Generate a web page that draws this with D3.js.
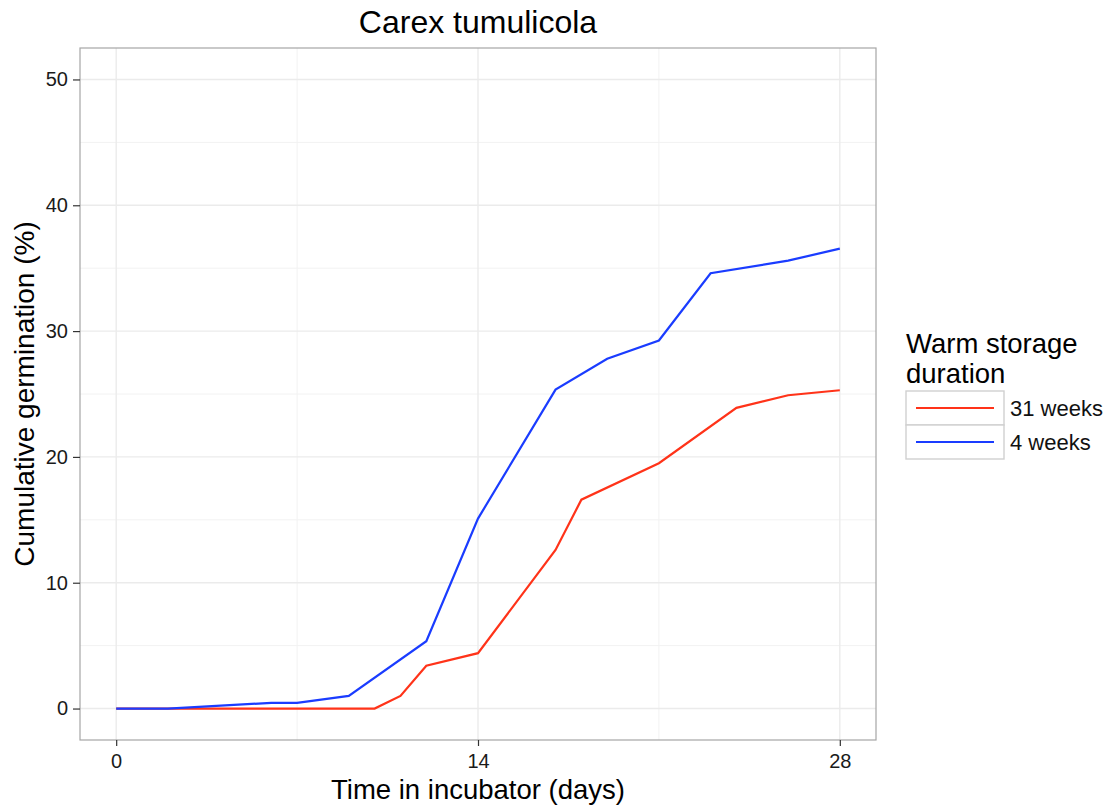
<!DOCTYPE html>
<html><head><meta charset="utf-8">
<script src="https://cdn.jsdelivr.net/npm/d3@7"></script>
<style>body{margin:0;background:#fff;font-family:"Liberation Sans",Arial,sans-serif;}</style>
</head><body>
<svg id="c" width="1106" height="807"></svg>
<script>
const title = "Carex tumulicola";
const xTicks = [0, 14, 28];
const yTicks = [0, 10, 20, 30, 40, 50];
const seriesNames = ["31 weeks", "4 weeks"];
const seriesColors = ["#ff3319", "#1a3cff"];
const daysRed = [0, 2, 6, 7, 9, 10, 11, 12, 14, 17, 18, 21, 24, 26, 28];
const valsRed = [0, 0, 0, 0, 0, 0, 1.0, 3.4, 4.4, 12.6, 16.6, 19.5, 23.9, 24.9, 25.3];
const daysBlue = [0, 2, 6, 7, 9, 12, 14, 17, 19, 21, 23, 26, 28];
const valsBlue = [0, 0, 0.45, 0.45, 1.0, 5.35, 15.1, 25.35, 27.8, 29.25, 34.6, 35.6, 36.55];

const svg = d3.select("#c");
const L = 80, R = 876, T = 48, B = 740;
const x = d3.scaleLinear().domain([-1.4, 29.4]).range([L, R]);
const y = d3.scaleLinear().domain([-2.5, 52.5]).range([B, T]);

// grid
const g = svg.append("g");
const minorX = [7, 21], minorY = [5, 15, 25, 35, 45];
g.selectAll(".mx").data(minorX).enter().append("line")
  .attr("x1", d => x(d)).attr("x2", d => x(d)).attr("y1", T).attr("y2", B)
  .attr("stroke", "#f2f2f2").attr("stroke-width", 1);
g.selectAll(".my").data(minorY).enter().append("line")
  .attr("y1", d => y(d)).attr("y2", d => y(d)).attr("x1", L).attr("x2", R)
  .attr("stroke", "#f2f2f2").attr("stroke-width", 1);
g.selectAll(".gx").data(xTicks).enter().append("line")
  .attr("x1", d => x(d)).attr("x2", d => x(d)).attr("y1", T).attr("y2", B)
  .attr("stroke", "#ebebeb").attr("stroke-width", 1.4);
g.selectAll(".gy").data(yTicks).enter().append("line")
  .attr("y1", d => y(d)).attr("y2", d => y(d)).attr("x1", L).attr("x2", R)
  .attr("stroke", "#ebebeb").attr("stroke-width", 1.4);

// lines
const line = d3.line().x(d => x(d[0])).y(d => y(d[1]));
const dataRed = daysRed.map((d, i) => [d, valsRed[i]]);
const dataBlue = daysBlue.map((d, i) => [d, valsBlue[i]]);
svg.append("path").datum(dataRed).attr("d", line).attr("fill", "none")
  .attr("stroke", seriesColors[0]).attr("stroke-width", 2.2);
svg.append("path").datum(dataBlue).attr("d", line).attr("fill", "none")
  .attr("stroke", seriesColors[1]).attr("stroke-width", 2.2);

// panel border
svg.append("rect").attr("x", L).attr("y", T).attr("width", R - L).attr("height", B - T)
  .attr("fill", "none").attr("stroke", "#a6a6a6").attr("stroke-width", 1.2);

// axes
const xAxis = svg.append("g").attr("transform", `translate(0,${B})`)
  .call(d3.axisBottom(x).tickValues(xTicks).tickSize(6).tickPadding(5));
const yAxis = svg.append("g").attr("transform", `translate(${L},0)`)
  .call(d3.axisLeft(y).tickValues(yTicks).tickSize(7).tickPadding(5));
[xAxis, yAxis].forEach(a => {
  a.select(".domain").remove();
  a.selectAll(".tick line").attr("stroke", "#333").attr("stroke-width", 1.2);
  a.selectAll(".tick text").attr("fill", "#1a1a1a").style("font-size", "20px")
    .style("font-family", "Liberation Sans, Arial, sans-serif");
});
xAxis.selectAll(".tick text").attr("y", 28).attr("dy", null);

// titles
svg.append("text").attr("x", (L + R) / 2).attr("y", 33).attr("text-anchor", "middle")
  .style("font-size", "32px").attr("fill", "#000").text(title);
svg.append("text").attr("x", (L + R) / 2).attr("y", 799).attr("text-anchor", "middle")
  .style("font-size", "27.5px").attr("fill", "#000").text("Time in incubator (days)");
svg.append("text").attr("transform", `translate(34,${(T + B) / 2}) rotate(-90)`)
  .attr("text-anchor", "middle").style("font-size", "28px").attr("fill", "#000")
  .text("Cumulative germination (%)");

// legend
const lg = svg.append("g");
lg.append("text").attr("x", 906).attr("y", 353).style("font-size", "27.5px").text("Warm storage");
lg.append("text").attr("x", 906).attr("y", 383).style("font-size", "27.5px").text("duration");
seriesNames.forEach((n, i) => {
  const y0 = 391 + i * 34;
  lg.append("rect").attr("x", 906).attr("y", y0).attr("width", 98).attr("height", 34)
    .attr("fill", "#fff").attr("stroke", "#d0d0d0").attr("stroke-width", 1.4);
  lg.append("line").attr("x1", 916).attr("x2", 994).attr("y1", y0 + 17).attr("y2", y0 + 17)
    .attr("stroke", seriesColors[i]).attr("stroke-width", 2.2);
  lg.append("text").attr("x", 1010).attr("y", y0 + 25).style("font-size", "22px")
    .attr("fill", "#111").text(n);
});
</script>
</body></html>
